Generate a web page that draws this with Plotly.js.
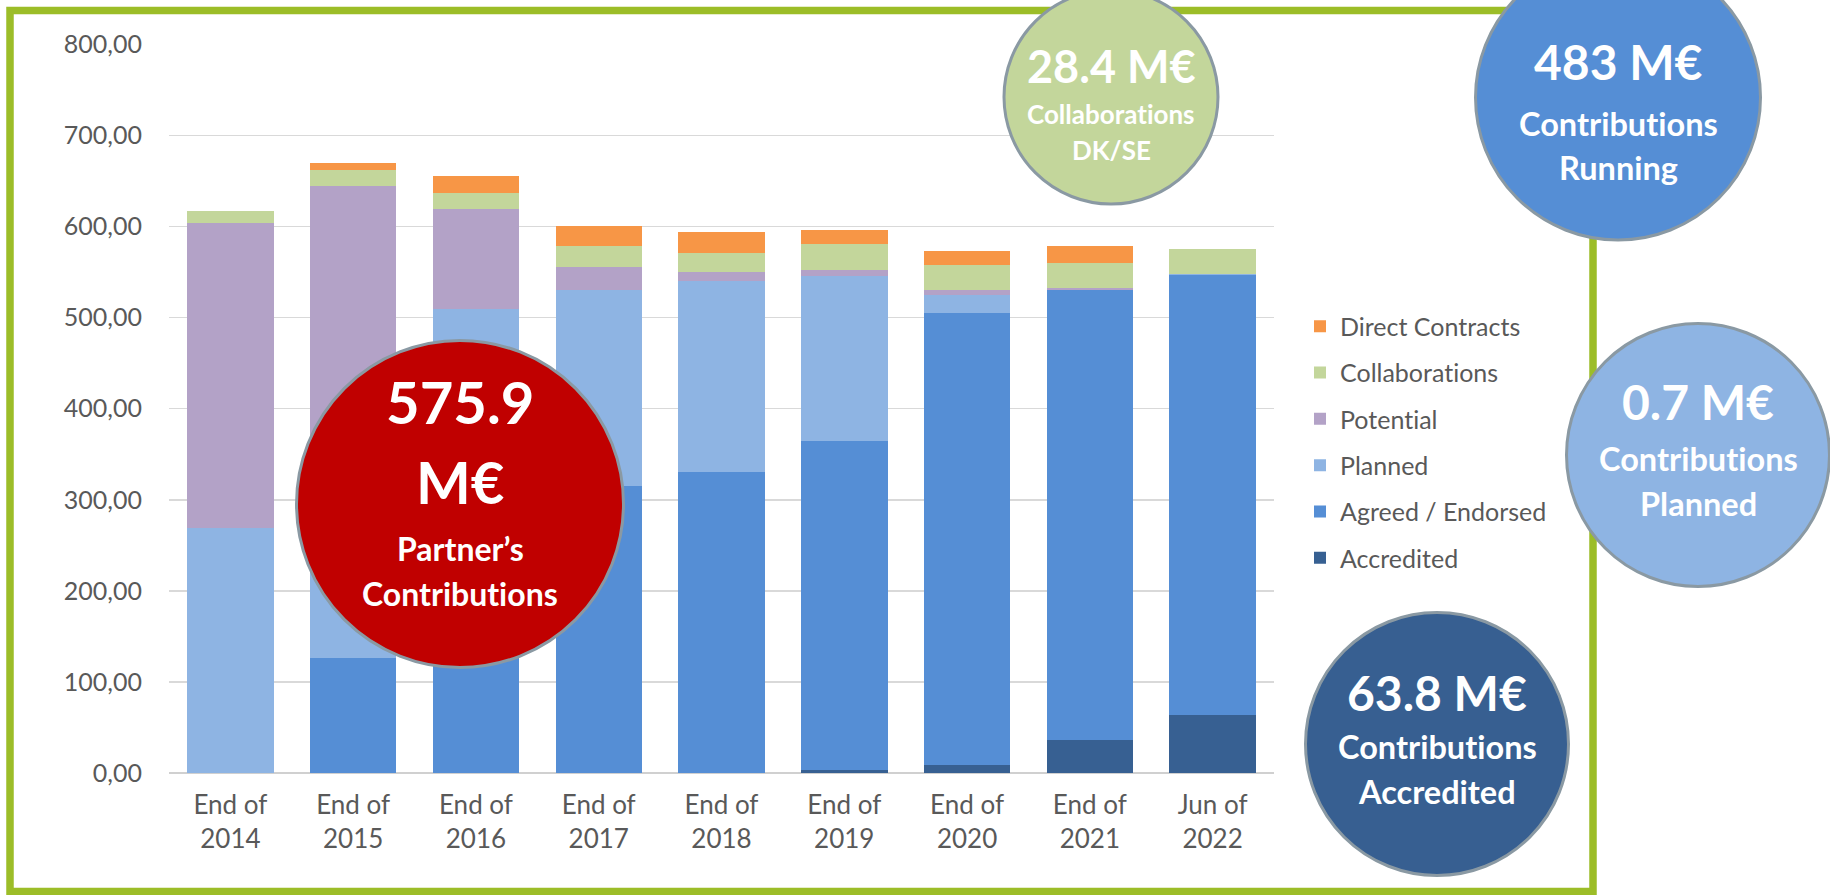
<!DOCTYPE html>
<html>
<head>
<meta charset="utf-8">
<script src="https://cdn.plot.ly/plotly-3.0.1.min.js"></script>
<style>
html,body{margin:0;padding:0;background:#fff;}
#chart{width:1830px;height:895px;}
svg text{font-variant-ligatures:none;font-feature-settings:"liga" 0,"clig" 0;}
</style>
</head>
<body>
<div id="chart"></div>
<script>
// ---- data ----
const periodLabels = ['End of', 'End of', 'End of', 'End of', 'End of', 'End of', 'End of', 'End of', 'Jun of'];
const years = ['2014', '2015', '2016', '2017', '2018', '2019', '2020', '2021', '2022'];
const accredited = [0, 0, 0, 0, 0, 3.5, 8.4, 36.2, 63.8];
const agreed = [0, 125.8, 250, 315, 330.3, 361.1, 496.4, 494.2, 483];
const planned = [268.9, 184, 259.2, 215, 210, 180.8, 20.1, 0.5, 0.7];
const potential = [335.3, 335.2, 110.1, 25.3, 10.2, 7.3, 5.1, 1.7, 0];
const collaborations = [12.5, 17.6, 17.9, 23, 20.1, 28.1, 27.8, 27.7, 28.4];
const directContracts = [0, 7.7, 18.3, 22.7, 23.1, 15.7, 15.7, 18.3, 0];

const seriesNames = ['Accredited', 'Agreed / Endorsed', 'Planned', 'Potential', 'Collaborations', 'Direct Contracts'];
const seriesValues = [accredited, agreed, planned, potential, collaborations, directContracts];
const seriesColors = ['#376092', '#558ED5', '#8EB4E3', '#B3A2C7', '#C3D69B', '#F79646'];

const bubbleTexts = [
  ['575.9', 'M€', 'Partner’s', 'Contributions'],
  ['28.4 M€', 'Collaborations', 'DK/SE'],
  ['483 M€', 'Contributions', 'Running'],
  ['0.7 M€', 'Contributions', 'Planned'],
  ['63.8 M€', 'Contributions', 'Accredited']
];

// ---- layout helpers (pixel -> paper) ----
const W = 1830, H = 895;
const L = 169, R = 1274, T = 44, B = 773;
const px = p => (p - L) / (R - L);
const py = p => (B - p) / (B - T);

const categories = periodLabels.map((p, i) => p + '<br>' + years[i]);

const FONT = 'Lato, "Open Sans", "DejaVu Sans", sans-serif';

const traces = seriesNames.map((name, i) => ({
  type: 'bar',
  name: name,
  x: categories,
  y: seriesValues[i],
  marker: {color: seriesColors[i], line: {width: 0}},
  legendgroup: 'g' + i,
  legendrank: seriesNames.length - i,
  hoverinfo: 'x+y+name'
}));

const borderGrey = '#8A99A3';
function circle(cx, cy, r, fill) {
  return {type: 'circle', xref: 'paper', yref: 'paper', layer: 'above',
    x0: px(cx - r), x1: px(cx + r), y0: py(cy + r), y1: py(cy - r),
    fillcolor: fill, line: {color: borderGrey, width: 3}};
}
function label(text, cx, cy, size) {
  return {xref: 'paper', yref: 'paper', x: px(cx), y: py(cy), xanchor: 'center', yanchor: 'middle',
    text: text, showarrow: false, font: {family: FONT, size: size, color: '#ffffff', weight: 'bold'}};
}

const shapes = [
  {type: 'rect', xref: 'paper', yref: 'paper', layer: 'above',
   x0: px(10), x1: px(1593), y0: py(891.5), y1: py(10.5),
   line: {color: '#9CBD28', width: 7.5}, fillcolor: 'rgba(0,0,0,0)'},
  circle(460, 504, 163.5, '#C00000'),
  circle(1111, 97, 107, '#C3D69B'),
  circle(1618, 97.5, 142.5, '#558ED5'),
  circle(1698, 455, 131.5, '#8EB4E3'),
  circle(1437, 744, 131.5, '#375F91')
];

const annotations = [
  label(bubbleTexts[0][0], 460, 401, 58),
  label(bubbleTexts[0][1], 460, 481, 58),
  label(bubbleTexts[0][2], 460, 548, 32),
  label(bubbleTexts[0][3], 460, 593, 32),
  label(bubbleTexts[1][0], 1111, 66, 45),
  label(bubbleTexts[1][1], 1111, 114, 26),
  label(bubbleTexts[1][2], 1111, 150, 26),
  label(bubbleTexts[2][0], 1618, 61, 48),
  label(bubbleTexts[2][1], 1618, 123, 32.5),
  label(bubbleTexts[2][2], 1618, 168, 32.5),
  label(bubbleTexts[3][0], 1698, 402, 48),
  label(bubbleTexts[3][1], 1698, 458, 32.5),
  label(bubbleTexts[3][2], 1698, 503, 32.5),
  label(bubbleTexts[4][0], 1437, 692, 48),
  label(bubbleTexts[4][1], 1437, 746, 32.5),
  label(bubbleTexts[4][2], 1437, 791, 32.5)
];

const layout = {
  width: W, height: H, autosize: false,
  margin: {l: L, r: W - R, t: T, b: H - B, pad: 0},
  paper_bgcolor: '#ffffff', plot_bgcolor: '#ffffff',
  font: {family: FONT, size: 25, color: '#595959'},
  separators: ', ',
  barmode: 'stack', bargap: 0.296,
  showlegend: true,
  legend: {x: px(1300), xanchor: 'left', y: py(303.5), yanchor: 'top',
    traceorder: 'grouped', tracegroupgap: 10.8,
    font: {family: FONT, size: 25, color: '#595959'}, bgcolor: 'rgba(0,0,0,0)'},
  xaxis: {type: 'category', showgrid: false, showline: false, ticks: '',
    ticklabelstandoff: 14,
    tickfont: {family: FONT, size: 26, color: '#595959'}, fixedrange: true},
  yaxis: {range: [0, 800.5], dtick: 100, tick0: 0, tickformat: '.2f',
    showgrid: true, gridcolor: '#D9D9D9', gridwidth: 1.5,
    zeroline: true, zerolinecolor: '#D0D0D0', zerolinewidth: 1.5,
    showline: false, ticks: '', ticklabelstandoff: 26,
    tickfont: {family: FONT, size: 25, color: '#595959'}, fixedrange: true},
  shapes: shapes,
  annotations: annotations
};

Plotly.newPlot('chart', traces, layout, {displayModeBar: false, staticPlot: true});
</script>
</body>
</html>
